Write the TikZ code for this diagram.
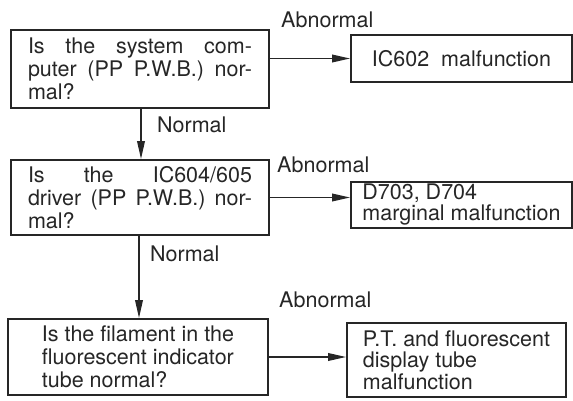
\documentclass[tikz,border=0pt]{standalone}
\usepackage{fontspec}
\setmainfont{TeX Gyre Heros}
\usetikzlibrary{arrows.meta}

\begin{document}
\begin{tikzpicture}[x=1pt,y=-1pt,
  every node/.style={text=black!85},
  qbox/.style={draw=black!85,line width=1.6pt,inner ysep=0pt,align=left,font=\fontsize{21.5}{23}\selectfont},
  rbox/.style={draw=black!85,line width=1.6pt,inner ysep=0pt,align=left,font=\fontsize{21.5}{21}\selectfont},
  tag/.style={anchor=base west,inner sep=0pt,font=\fontsize{21.5}{23}\selectfont},
  flow/.style={draw=black!85,line width=1.8pt,-{Triangle[length=18pt,width=7.5pt]}}]
\useasboundingbox (0,0) rectangle (573,401);
\node[qbox,minimum width=258,minimum height=78,inner xsep=17pt] (q1) at (140,69)
  {\makebox[224pt][s]{Is the system com-}\\\makebox[224pt][s]{puter (PP P.W.B.) nor-}\\mal?};
\node[qbox,minimum width=258,minimum height=75,inner xsep=17pt] (q2) at (140,197.5)
  {\makebox[224pt][s]{Is the IC604/605}\\\makebox[224pt][s]{driver (PP P.W.B.) nor-}\\mal?};
\node[qbox,minimum width=260,minimum height=76] (q3) at (138,357)
  {Is the filament in the\\fluorescent indicator\\tube normal?};
\node[rbox,minimum width=221,minimum height=47] (r1) at (461.5,58.5) {IC602\ \ malfunction};
\node[rbox,minimum width=221,minimum height=46] (r2) at (461.5,205) {D703, D704\\marginal malfunction};
\node[rbox,minimum width=219,minimum height=74,font=\fontsize{21.5}{21.5}\selectfont] (r3) at (456.5,360)
  {P.T. and fluorescent\\display tube\\malfunction};
\draw[flow] (q1.east |- r1.west) -- (r1.west);
\draw[flow] (q2.east) -- (q2.east -| r2.west);
\draw[flow] (q3.east) -- (q3.east -| r3.west);
\draw[flow] ([xshift=1pt]q1.south) -- ([xshift=1pt]q2.north);
\draw[flow] ([xshift=-1pt]q2.south) -- ([xshift=-1pt]q2.south |- q3.north);
\node[tag] (ab1) at (281,28) {Abnormal};
\node[tag] (ab2) at (277,172) {Abnormal};
\node[tag] (ab3) at (279,307) {Abnormal};
\node[tag] (no1) at (157,133) {Normal};
\node[tag] (no2) at (150,261) {Normal};
\end{tikzpicture}
\end{document}
